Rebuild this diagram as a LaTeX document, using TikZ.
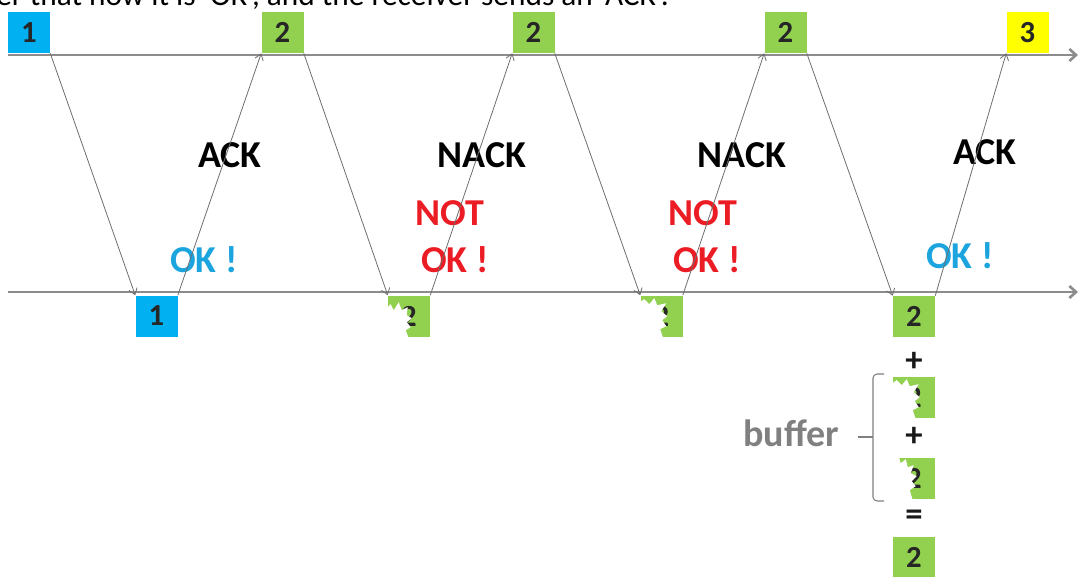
\documentclass[tikz,border=0pt]{standalone}
\usepackage{fontspec}
\setmainfont{Carlito}
\usetikzlibrary{arrows.meta}
\definecolor{pktblue}{RGB}{0,176,240}
\definecolor{pktgreen}{RGB}{146,208,80}
\definecolor{pktyellow}{RGB}{255,255,0}
\definecolor{okcyan}{RGB}{28,164,222}
\definecolor{notred}{RGB}{236,28,36}
\definecolor{axisgray}{RGB}{140,140,140}
\definecolor{linkgray}{RGB}{110,110,110}
\definecolor{bufgray}{RGB}{128,128,128}
\tikzset{
  pkt/.style={minimum width=31.5pt, minimum height=30.75pt, inner sep=0pt,
    font=\fontsize{23}{23}\selectfont\bfseries, text=black!85},
  axisline/.style={draw=axisgray, line width=2pt, -{Straight Barb[length=5pt,width=9pt]}},
  link/.style={draw=linkgray, line width=0.6pt, -{Straight Barb[length=4.5pt,width=6.5pt]}},
  biglabel/.style={font=\fontsize{28.5}{28.5}\selectfont\bfseries, anchor=base, inner sep=0pt},
  opsign/.style={font=\fontsize{26}{26}\selectfont\bfseries, inner sep=0pt, text=black!90},
}
% white torn patch over the left part of a corrupted packet
\newcommand{\tornA}[1]{%
  \begin{scope}[shift={(#1.north west)}]
    \fill[white] (-2,14) -- (3,9) -- (6,15) -- (11,7) -- (14,15) -- (20,12) -- (19,20)
      -- (24,23) -- (19,27) -- (23,32) -- (18,35) -- (21,43) -- (-2,43) -- cycle;
  \end{scope}}
\newcommand{\tornB}[1]{%
  \begin{scope}[shift={(#1.north west)}]
    \fill[white] (-2,-1) -- (6,-1) -- (8,6) -- (13,2) -- (15,10) -- (21,8) -- (18,16)
      -- (24,19) -- (19,24) -- (23,29) -- (17,33) -- (20,43) -- (-2,43) -- cycle;
  \end{scope}}
\newcommand{\tornC}[1]{%
  \begin{scope}[shift={(#1.north west)}]
    \fill[white] (-2,8) -- (4,4) -- (9,9) -- (14,3) -- (17,10) -- (26,8) -- (21,16)
      -- (27,21) -- (22,25) -- (26,31) -- (20,34) -- (23,43) -- (-2,43) -- cycle;
  \end{scope}}

\begin{document}
\begin{tikzpicture}[x=0.75pt, y=-0.75pt]
  \useasboundingbox (0,0) rectangle (1080,577);
  \clip (0,0) rectangle (1080,577);

  % caption line running off the top edge
  \node[anchor=base west, inner sep=0pt, font=\fontsize{23.5}{23.5}\selectfont] (caption)
    at (-4,6) {er that now it is ‘OK’, and the receiver sends an ‘ACK’.};

  % time axes of sender and receiver
  \coordinate (ts) at (8,55);  \coordinate (te) at (1078,55);
  \coordinate (bs) at (8,292); \coordinate (be) at (1078,292);
  \draw[axisline] (ts) -- (te);
  \draw[axisline] (bs) -- (be);

  % sender packets
  \node[pkt, fill=pktblue]   (s1) at (29,32.5)    {1};
  \node[pkt, fill=pktgreen]  (s2) at (282.5,32.5) {2};
  \node[pkt, fill=pktgreen]  (s3) at (533.5,32.5) {2};
  \node[pkt, fill=pktgreen]  (s4) at (785.5,32.5) {2};
  \node[pkt, fill=pktyellow] (s5) at (1027.5,32.5){3};

  % receiver packets
  \node[pkt, fill=pktblue]  (r1) at (156.5,316) {1};
  \node[pkt, fill=pktgreen] (r2) at (409,316)   {2};
  \node[pkt, fill=pktgreen] (r3) at (661.5,316) {2};
  \node[pkt, fill=pktgreen] (r4) at (914,316.5) {2};
  \tornA{r2}
  \tornC{r3}

  % buffer combination
  \node[opsign] (p1) at (914,362) {+};
  \node[pkt, fill=pktgreen] (b1) at (914,397) {2};
  \node[opsign] (p2) at (914,437) {+};
  \node[pkt, fill=pktgreen] (b2) at (914,478) {2};
  \node[opsign] (eq) at (914,518) {=};
  \node[pkt, fill=pktgreen] (b3) at (914,557.5) {2};
  \tornC{b1}
  \tornB{b2}

  \node[biglabel, text=bufgray] (buf) at (791,446) {buffer};
  \coordinate (brt) at (884,374);
  \coordinate (brb) at (884,501);
  \coordinate (brm) at (873,437);
  \coordinate (brk) at (858,437);
  \draw[bufgray, line width=0.8pt, rounded corners=3pt] (brt) -| (brm) |- (brb);
  \draw[bufgray, line width=0.8pt] (brm) -- (brk);

  % status labels
  \node[biglabel] (ack1)  at (230,168) {ACK};
  \node[biglabel] (nack1) at (482,168) {NACK};
  \node[biglabel] (nack2) at (742,168) {NACK};
  \node[biglabel] (ack2)  at (985,165) {ACK};
  \node[biglabel, text=okcyan] (okc1) at (204,272) {OK !};
  \node[biglabel, text=okcyan] (okc2) at (960,268) {OK !};
  \node[biglabel, text=notred] (not1) at (450,225) {NOT};
  \node[biglabel, text=notred] (okr1) at (455,272) {OK !};
  \node[biglabel, text=notred] (not2) at (703,225) {NOT};
  \node[biglabel, text=notred] (okr2) at (707,272) {OK !};

  % data transmissions
  \draw[link] (s1.south east) -- (r1.north west);
  \draw[link] (s2.south east) -- (r2.north west);
  \draw[link] (s3.south east) -- (r3.north west);
  \draw[link] (s4.south east) -- (r4.north west);

  % feedback messages
  \draw[link] (r1.north east) -- (s2.south west);
  \draw[link] (r2.north east) -- (s3.south west);
  \draw[link] (r3.north east) -- (s4.south west);
  \draw[link] (r4.north east) -- (s5.south west);
\end{tikzpicture}
\end{document}
